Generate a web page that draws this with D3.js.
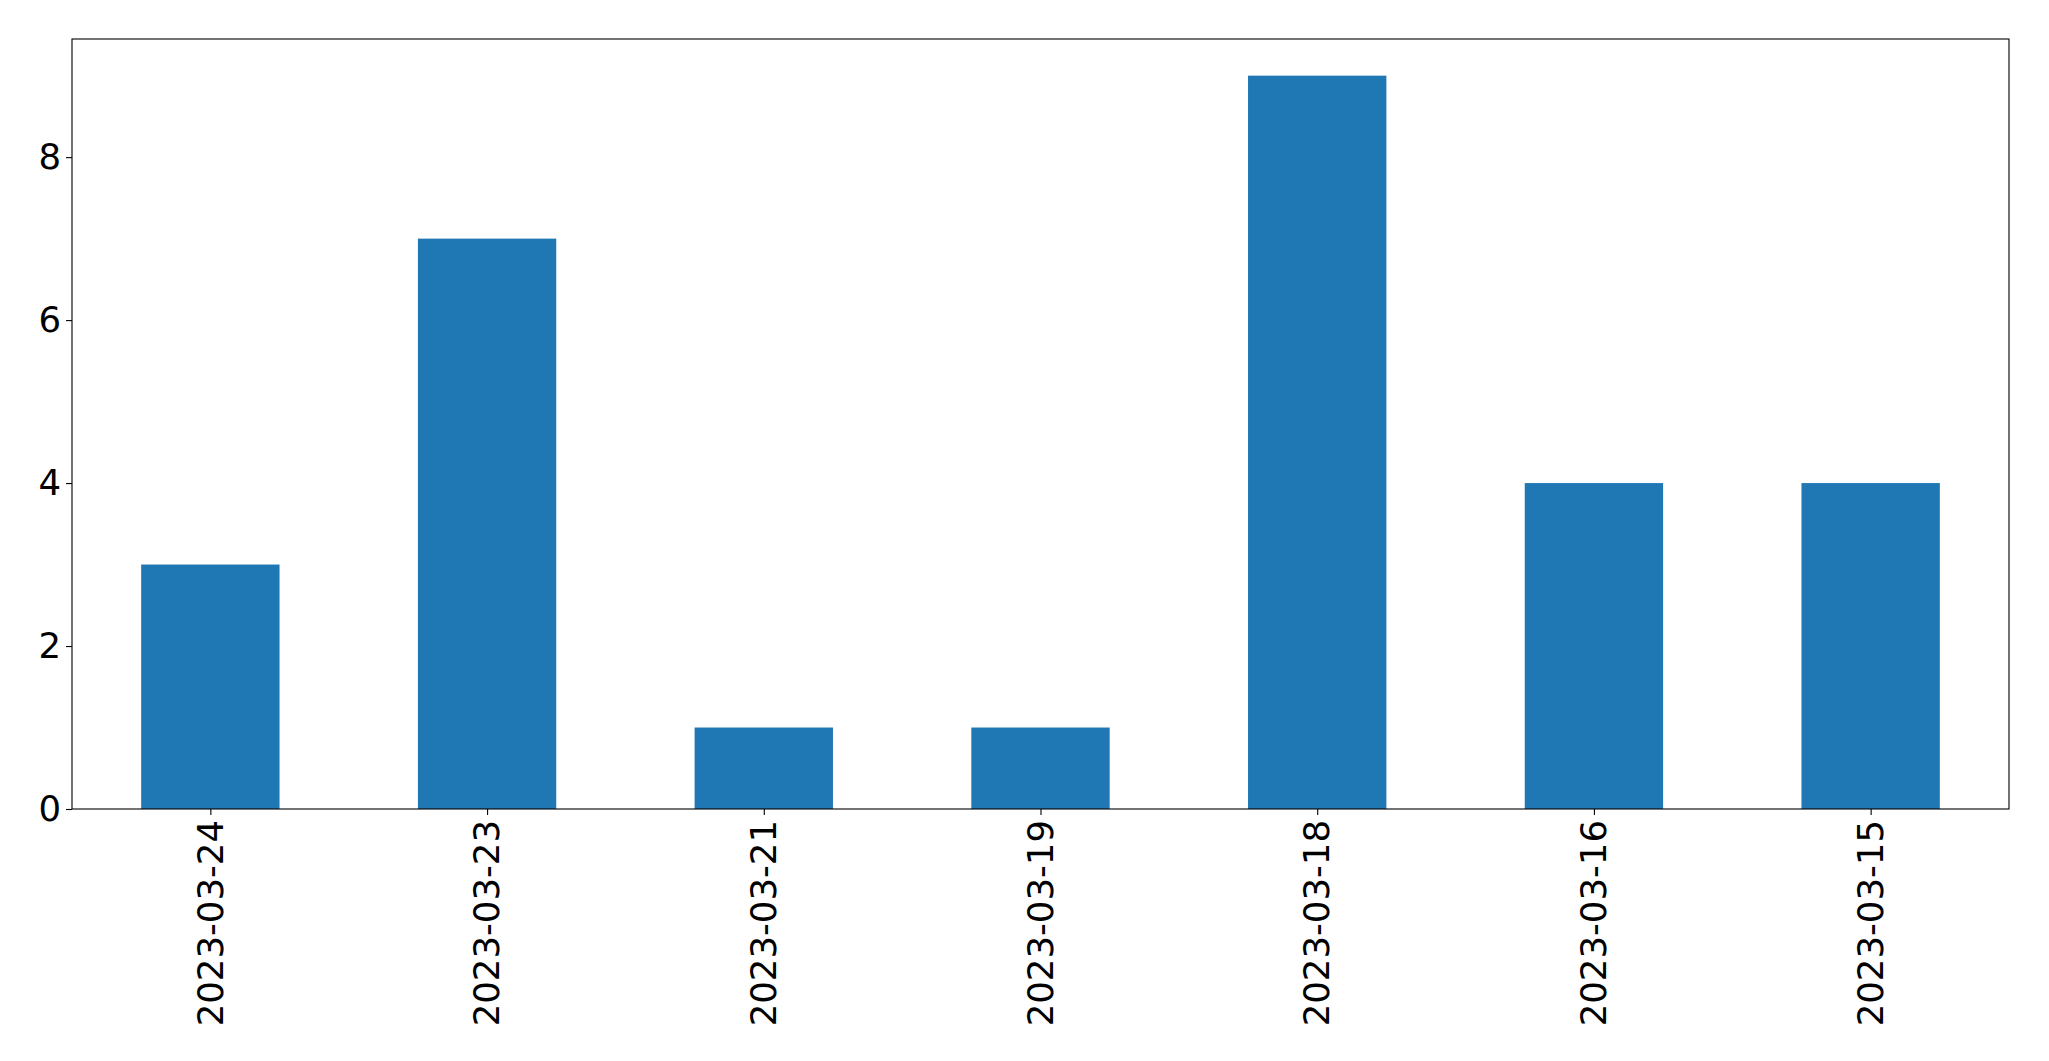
<!DOCTYPE html>
<html><head><meta charset="utf-8">
<script src="https://cdn.jsdelivr.net/npm/d3@7"></script>
<style>body{margin:0;background:#fff;}svg{display:block;}</style>
</head><body>
<script>
const categories = ["2023-03-24","2023-03-23","2023-03-21","2023-03-19","2023-03-18","2023-03-16","2023-03-15"];
const values = [3,7,1,1,9,4,4];
const yTicks = [0,2,4,6,8];

const W = 2049, H = 1061;
const m = {left:72, right:2049-2009, top:39, bottom:H-809};
const svg = d3.select("body").append("svg").attr("width",W).attr("height",H);
const pw = W-m.left-m.right, ph = H-m.top-m.bottom;
const g = svg.append("g").attr("transform",`translate(${m.left},${m.top})`);

const x = d3.scaleLinear().domain([-0.5, categories.length-0.5]).range([0,pw]);
const y = d3.scaleLinear().domain([0, 9*1.05]).range([ph,0]);

g.selectAll("rect.bar").data(values).join("rect").attr("class","bar")
  .attr("x",(d,i)=>x(i-0.25)).attr("width",(d,i)=>x(i+0.25)-x(i-0.25))
  .attr("y",d=>y(d)).attr("height",d=>y(0)-y(d)).attr("fill","#1f77b4");

const font = "DejaVu Sans, sans-serif";
const xa = g.append("g").attr("transform",`translate(0,${ph})`)
  .call(d3.axisBottom(x).tickValues(d3.range(categories.length)).tickFormat(i=>categories[i]).tickSize(6).tickPadding(0));
xa.selectAll("text").attr("font-size",35.5).attr("font-family",font).attr("fill","#000")
  .attr("transform","rotate(-90)").attr("text-anchor","end").attr("dx",0).attr("dy","0.33em").attr("y",0).attr("x",-11);
const ya = g.append("g").call(d3.axisLeft(y).tickValues(yTicks).tickFormat(d3.format("d")).tickSize(6).tickPadding(5));
ya.selectAll("text").attr("font-size",35.5).attr("font-family",font).attr("fill","#000");
[xa,ya].forEach(a=>{a.select(".domain").remove();a.selectAll("line").attr("stroke","#000").attr("stroke-width",1.1);});

g.append("rect").attr("x",0).attr("y",0).attr("width",pw).attr("height",ph)
  .attr("fill","none").attr("stroke","#000").attr("stroke-width",1.1);
</script>
</body></html>
